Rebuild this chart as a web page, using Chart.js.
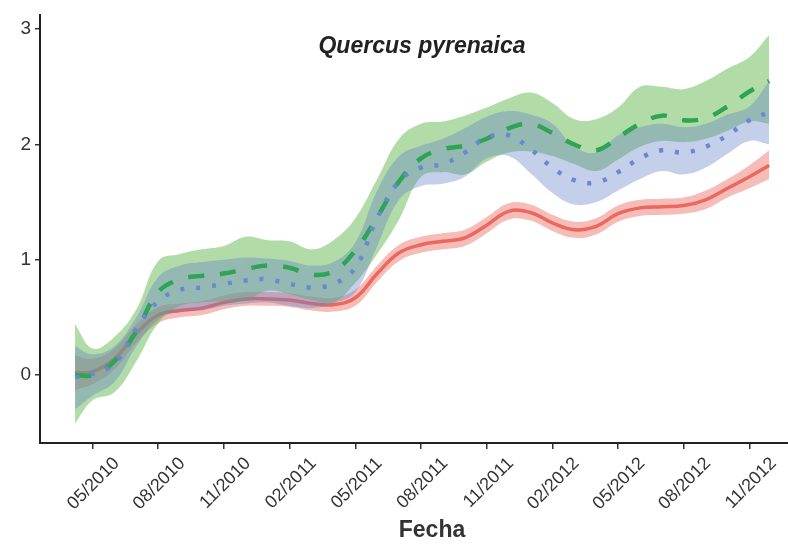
<!doctype html>
<html lang="es">
  <head>
    <meta charset="utf-8">
    <title>Quercus pyrenaica</title>
    <script src="https://cdn.jsdelivr.net/npm/chart.js@4.4.0/dist/chart.umd.min.js"></script>
    <style>
      html, body { margin: 0; padding: 0; background: #fff; }
      #wrap { width: 788px; height: 544px; }
    </style>
  </head>
  <body>
    <div id="wrap"><canvas id="grafico"></canvas></div>

  <script>
    // meses desde 01/2010 (0 = enero 2010)
    const meses = [3.2, 4, 5, 6, 7, 8, 9, 10, 11, 12, 13, 14, 15, 16, 17, 18, 19, 20,
                   21, 22, 23, 24, 25, 26, 27, 28, 29, 30, 31, 32, 33, 34, 34.9];

    // serie roja (linea continua)
    const rojoMedia = [0.02, 0.03, 0.14, 0.36, 0.52, 0.56, 0.58, 0.63, 0.66, 0.66, 0.65, 0.62, 0.61, 0.67, 0.88, 1.06, 1.13,
                       1.16, 1.19, 1.30, 1.42, 1.41, 1.32, 1.26, 1.29, 1.40, 1.45, 1.46, 1.47, 1.52, 1.62, 1.72, 1.82];
    const rojoSup   = [0.17, 0.14, 0.23, 0.44, 0.59, 0.62, 0.64, 0.69, 0.72, 0.72, 0.71, 0.68, 0.67, 0.74, 0.95, 1.13, 1.20,
                       1.23, 1.26, 1.37, 1.49, 1.48, 1.39, 1.33, 1.36, 1.47, 1.52, 1.53, 1.54, 1.60, 1.70, 1.82, 1.95];
    const rojoInf   = [-0.13, -0.08, 0.05, 0.28, 0.45, 0.50, 0.52, 0.57, 0.60, 0.60, 0.59, 0.56, 0.55, 0.60, 0.81, 0.99, 1.06,
                       1.09, 1.12, 1.23, 1.35, 1.34, 1.25, 1.19, 1.22, 1.33, 1.38, 1.39, 1.40, 1.44, 1.54, 1.62, 1.70];

    // serie verde (discontinua)
    const verdeMedia = [0.00, 0.00, 0.12, 0.38, 0.72, 0.83, 0.86, 0.88, 0.92, 0.95, 0.93, 0.87, 0.90, 1.08, 1.37, 1.68, 1.88,
                        1.96, 1.99, 2.05, 2.14, 2.18, 2.10, 2.00, 1.95, 2.06, 2.18, 2.25, 2.21, 2.23, 2.33, 2.46, 2.55];
    const verdeSup   = [0.44, 0.23, 0.33, 0.57, 0.99, 1.05, 1.09, 1.12, 1.20, 1.17, 1.16, 1.09, 1.17, 1.36, 1.70, 2.05, 2.18,
                        2.20, 2.25, 2.32, 2.40, 2.45, 2.36, 2.22, 2.22, 2.32, 2.50, 2.50, 2.48, 2.55, 2.66, 2.76, 2.95];
    const verdeInf   = [-0.42, -0.22, -0.15, 0.12, 0.45, 0.60, 0.63, 0.64, 0.65, 0.73, 0.70, 0.65, 0.63, 0.80, 1.05, 1.35, 1.72,
                        1.76, 1.74, 1.85, 1.93, 1.94, 1.90, 1.83, 1.77, 1.87, 1.98, 2.03, 2.02, 2.05, 2.12, 2.20, 2.18];

    // serie azul (punteada)
    const azulMedia = [-0.02, 0.01, 0.10, 0.40, 0.64, 0.74, 0.76, 0.79, 0.82, 0.83, 0.79, 0.76, 0.79, 0.93, 1.36, 1.68, 1.80,
                       1.83, 1.93, 2.06, 2.08, 1.96, 1.80, 1.69, 1.67, 1.76, 1.88, 1.95, 1.93, 1.98, 2.08, 2.21, 2.28];
    const azulSup   = [0.25, 0.18, 0.25, 0.50, 0.85, 0.95, 0.98, 1.00, 1.02, 1.01, 0.99, 0.95, 0.98, 1.15, 1.60, 1.90, 1.99,
                       2.05, 2.14, 2.24, 2.29, 2.26, 2.18, 1.98, 1.93, 2.08, 2.15, 2.18, 2.15, 2.18, 2.26, 2.33, 2.55];
    const azulInf   = [-0.30, -0.18, -0.06, 0.25, 0.48, 0.55, 0.56, 0.60, 0.62, 0.63, 0.60, 0.58, 0.62, 0.72, 1.12, 1.52, 1.64,
                       1.66, 1.72, 1.88, 1.90, 1.75, 1.58, 1.48, 1.50, 1.60, 1.70, 1.77, 1.74, 1.80, 1.92, 2.03, 2.00];

    // ejes
    const ticksX = [4, 7, 10, 13, 16, 19, 22, 25, 28, 31, 34];
    const etiquetasX = ['05/2010', '08/2010', '11/2010', '02/2011', '05/2011', '08/2011',
                        '11/2011', '02/2012', '05/2012', '08/2012', '11/2012'];
    const ticksY = [0, 1, 2, 3];

    function puntos(ys) {
      return meses.map((m, i) => ({ x: m, y: ys[i] }));
    }

    function linea(ys, color, dash, ancho, orden) {
      return {
        data: puntos(ys), borderColor: color, borderWidth: ancho, borderDash: dash,
        borderCapStyle: 'butt', pointRadius: 0, tension: 0.4, fill: false, order: orden
      };
    }

    function banda(ys, fondo, relleno, orden) {
      return {
        data: puntos(ys), borderWidth: 0, borderColor: 'rgba(0,0,0,0)', backgroundColor: fondo,
        pointRadius: 0, tension: 0.4, fill: relleno, order: orden
      };
    }

    const textos = {
      id: 'textos',
      afterDraw(chart) {
        const ctx = chart.ctx;
        ctx.save();
        ctx.fillStyle = '#222';
        ctx.textAlign = 'center';
        ctx.textBaseline = 'middle';
        ctx.font = 'italic bold 23px "Liberation Sans", Arial, sans-serif';
        ctx.fillText('Quercus pyrenaica', 422, 47);
        ctx.fillStyle = '#333';
        ctx.font = 'bold 23px "Liberation Sans", Arial, sans-serif';
        ctx.fillText('Fecha', 432, 531);
        ctx.restore();
      }
    };

    // orden: el numero mas alto se dibuja debajo
    const config = {
      type: 'line',
      data: {
        datasets: [
          banda(rojoSup, 'rgba(230,87,77,0.4)', '+1', 6),
          banda(rojoInf, 'rgba(0,0,0,0)', false, 6),
          linea(rojoMedia, 'rgb(236,104,94)', [], 3.5, 5),
          banda(verdeSup, 'rgba(101,185,79,0.5)', '+1', 4),
          banda(verdeInf, 'rgba(0,0,0,0)', false, 4),
          banda(azulSup, 'rgba(100,128,200,0.38)', '+1', 3),
          banda(azulInf, 'rgba(0,0,0,0)', false, 3),
          linea(verdeMedia, 'rgb(46,164,84)', [16, 16], 4.5, 2),
          linea(azulMedia, 'rgb(104,136,214)', [4, 12], 4.5, 1)
        ]
      },
      options: {
        responsive: true,
        maintainAspectRatio: false,
        animation: false,
        layout: { padding: { top: 10, left: 0, right: 0, bottom: 0 } },
        plugins: {
          legend: { display: false },
          tooltip: { enabled: false },
          title: { display: false }
        },
        scales: {
          x: {
            type: 'linear',
            min: 1.6,
            max: 35.76,
            afterBuildTicks: (s) => { s.ticks = ticksX.map(v => ({ value: v })); },
            afterFit: (s) => { s.height = 101; },
            ticks: {
              autoSkip: false,
              minRotation: 45,
              maxRotation: 45,
              labelOffset: 24,
              padding: 4,
              color: '#333',
              font: { family: '"Liberation Sans", Arial, sans-serif', size: 18 },
              callback: (v) => etiquetasX[ticksX.indexOf(v)]
            },
            grid: { drawOnChartArea: false, drawTicks: true, tickLength: 6, color: '#333', lineWidth: 1.5 },
            border: { display: true, color: '#222', width: 2 }
          },
          y: {
            type: 'linear',
            min: -0.59,
            max: 3.12,
            afterBuildTicks: (s) => { s.ticks = ticksY.map(v => ({ value: v })); },
            afterFit: (s) => { s.width = 40; },
            ticks: {
              padding: 4,
              color: '#333',
              font: { family: '"Liberation Sans", Arial, sans-serif', size: 19 }
            },
            grid: { drawOnChartArea: false, drawTicks: true, tickLength: 5, color: '#333', lineWidth: 1.5 },
            border: { display: true, color: '#222', width: 2 }
          }
        }
      },
      plugins: [textos]
    };

    new Chart(document.getElementById('grafico'), config);
  </script>
  </body>
</html>
